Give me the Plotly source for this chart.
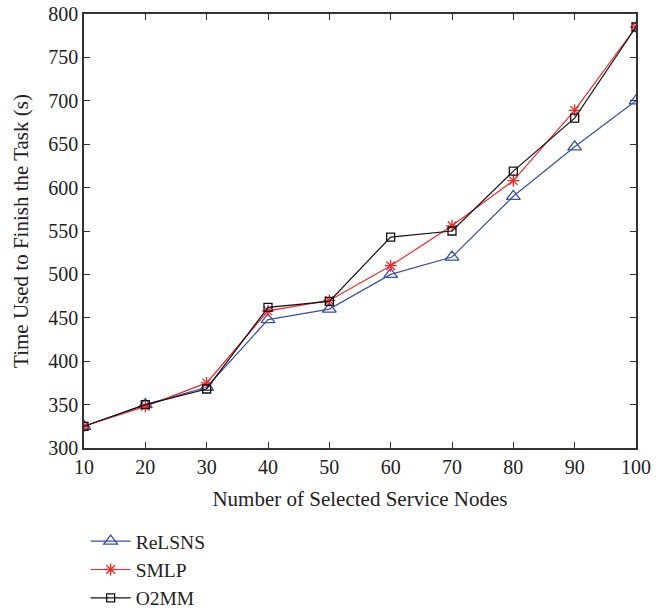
import plotly.graph_objects as go

nodes = [10, 20, 30, 40, 50, 60, 70, 80, 90, 100]
relsns = [325, 350, 370, 448, 460, 500, 520, 590, 647, 700]
smlp = [325, 348, 375, 458, 470, 510, 556, 608, 689, 785]
o2mm = [325, 350, 368, 462, 469, 543, 550, 619, 680, 785]

FAM = "Liberation Serif, Times New Roman, serif"
tick_font = dict(family=FAM, size=20, color="#222")
title_font = dict(family=FAM, size=21, color="#222")
legend_font = dict(family=FAM, size=19.5, color="#222")

fig = go.Figure()
fig.add_trace(go.Scatter(x=nodes, y=relsns, name="ReLSNS", mode="lines+markers",
                         line=dict(color="#3a4fa8", width=1.2),
                         marker=dict(symbol="triangle-up-open", size=12, color="#3a4fa8", line=dict(width=1.3))))
fig.add_trace(go.Scatter(x=nodes, y=smlp, name="SMLP", mode="lines+markers",
                         line=dict(color="#f02828", width=1.2),
                         marker=dict(symbol="asterisk-open", size=10, color="#f02828", line=dict(width=1.3, color="#f02828"))))
fig.add_trace(go.Scatter(x=nodes, y=o2mm, name="O2MM", mode="lines+markers",
                         line=dict(color="#111", width=1.2),
                         marker=dict(symbol="square-open", size=8, color="#111", line=dict(width=1.3))))

axis_common = dict(showline=True, linecolor="#333", linewidth=1.5, mirror="ticks",
                   ticks="inside", ticklen=6, tickcolor="#333", tickwidth=1.2,
                   showgrid=False, zeroline=False, tickfont=tick_font, automargin=False,
                   ticklabeloverflow="allow")

fig.update_xaxes(range=[10, 100], tickvals=nodes,
                 title=dict(text="Number of Selected Service Nodes", font=title_font, standoff=15), **axis_common)
fig.update_yaxes(range=[300, 800], dtick=50,
                 title=dict(text="Time Used to Finish the Task (s)", font=title_font, standoff=14), **axis_common)

fig.update_layout(
    width=666, height=608,
    margin=dict(l=84, r=30, t=14, b=160, autoexpand=False),
    plot_bgcolor="white", paper_bgcolor="white",
    font=tick_font,
    legend=dict(x=0.003, y=-0.1705, xanchor="left", yanchor="top",
                bgcolor="rgba(0,0,0,0)", font=legend_font, tracegroupgap=0, itemwidth=40),
)

fig.write_html("out.html", config={"displayModeBar": False},
               post_script="document.body.style.margin='0';")
